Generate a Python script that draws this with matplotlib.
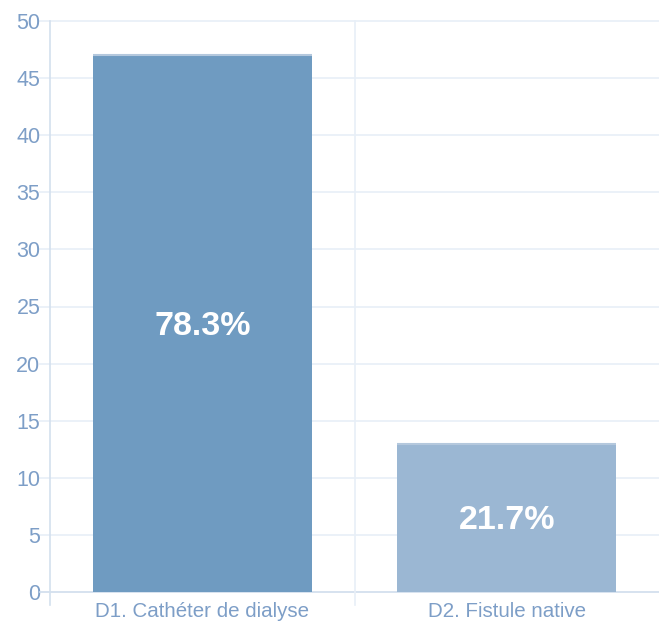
import matplotlib.pyplot as plt
import numpy as np
from matplotlib.transforms import offset_copy

categories = ['D1. Cathéter de dialyse', 'D2. Fistule native']
counts = [47, 13]
colors = ['#6f9bc1', '#9bb7d3']
yticks = [0, 5, 10, 15, 20, 25, 30, 35, 40, 45, 50]

plt.rcParams['font.family'] = ['Liberation Sans', 'DejaVu Sans']

fig = plt.figure(figsize=(6.59, 6.28), dpi=100)
ax = fig.add_axes([50 / 659, 1 - 592 / 628, 609 / 659, 571 / 628])

total = sum(counts)
x = np.arange(len(categories))
bars = ax.bar(x, counts, width=0.72, color=colors, zorder=3)

# text slightly below the bar middle, as in the original
txt_tr = offset_copy(ax.transData, fig=fig, x=0, y=-3, units='dots')

# lighter strip on top of each bar
for b in bars:
    ax.plot([b.get_x(), b.get_x() + b.get_width()], [b.get_height()] * 2,
            color='#b4c8dd', lw=1.5, zorder=4, solid_capstyle='butt')
    ax.text(b.get_x() + b.get_width() / 2, b.get_height() / 2,
            '%.1f%%' % (100 * b.get_height() / total), transform=txt_tr,
            ha='center', va='center', color='white', fontsize=24.5,
            fontweight='bold', zorder=5)

ax.set_xlim(-0.5, len(categories) - 0.5)
ax.set_ylim(0, 50)
ax.set_yticks(yticks)
ax.set_xticks(x)
ax.set_xticklabels(categories)

for s in ax.spines.values():
    s.set_visible(False)

grid_c = '#e8eff7'
for t in yticks:
    ax.plot([-0.017, 1], [t / 50, t / 50], transform=ax.transAxes,
            color=grid_c, lw=1.2, clip_on=False, zorder=1)
# baseline a bit darker
ax.plot([-0.017, 1], [0, 0], transform=ax.transAxes,
        color='#d3e0ee', lw=1.2, clip_on=False, zorder=2)
# vertical lines: axis and category separator
for xv in [0, 0.5]:
    ax.plot([xv, xv], [-0.022, 1], transform=ax.transAxes,
            color='#d3e0ee' if xv == 0 else grid_c, lw=1.2,
            clip_on=False, zorder=2)

ax.tick_params(axis='y', length=0, pad=7, labelsize=15.5, labelcolor='#7d9ec7')
ax.tick_params(axis='x', length=0, pad=7, labelsize=14.8, labelcolor='#7d9ec7')

fig.savefig('out.png', dpi=100)
